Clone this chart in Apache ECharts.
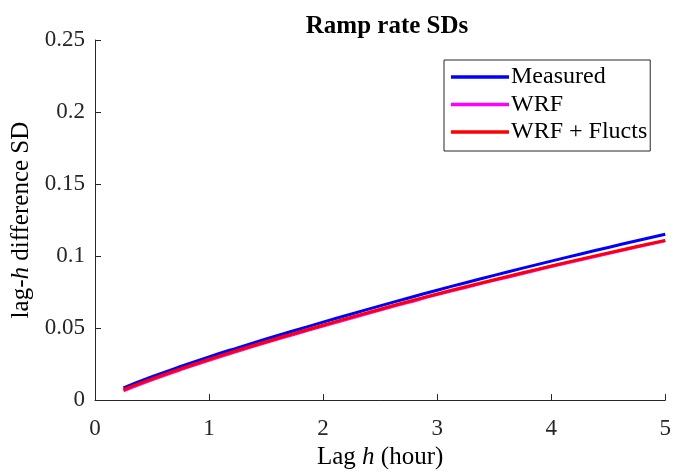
<!DOCTYPE html>
<html>
<head>
<meta charset="utf-8">
<script src="https://cdn.jsdelivr.net/npm/echarts@6/dist/echarts.min.js"></script>
<style>html,body{margin:0;padding:0;background:#fff}#c{width:674px;height:475px}</style>
</head>
<body>
<div id="c"></div>
<script>
var lags = [0.25,0.5,0.75,1,1.25,1.5,1.75,2,2.25,2.5,2.75,3,3.25,3.5,3.75,4,4.25,4.5,4.75,5];
var measured = [0.0085,0.0162,0.0233,0.0300,0.0363,0.0424,0.0483,0.0541,0.0598,0.0654,0.0709,0.0763,0.0815,0.0866,0.0916,0.0965,0.1013,0.1060,0.1106,0.1151];
var wrf = [0.0065,0.0141,0.0211,0.0277,0.0339,0.0399,0.0457,0.0514,0.0570,0.0625,0.0679,0.0732,0.0782,0.0831,0.0879,0.0927,0.0973,0.1018,0.1063,0.1106];
var wrfFlucts = [0.0072,0.0147,0.0217,0.0283,0.0345,0.0405,0.0463,0.0520,0.0576,0.0631,0.0685,0.0737,0.0787,0.0836,0.0884,0.0931,0.0977,0.1022,0.1066,0.1109];
var seriesNames = ['Measured','WRF','WRF + Flucts'];
var titleText = 'Ramp rate SDs';

function pairs(v){ return lags.map(function(h,i){ return [h, v[i]]; }); }
var font = 'Liberation Serif';
var axisCol = '#262626';
var chart = echarts.init(document.getElementById('c'));
chart.setOption({
  animation: false,
  backgroundColor: '#fff',
  title: {
    text: titleText, left: 382, top: 9, textAlign: 'center',
    textStyle: {fontFamily: font, fontWeight: 'bold', fontSize: 25, color: '#000'}
  },
  grid: {left: 95, right: 6, top: 40, bottom: 70},
  legend: {
    orient: 'vertical', left: 444, top: 60,
    padding: [5, 3, 7, 7], itemGap: 3.5,
    borderColor: axisCol, borderWidth: 1, backgroundColor: '#fff', borderRadius: 0,
    icon: 'rect', itemWidth: 58, itemHeight: 3.5,
    textStyle: {fontFamily: font, fontSize: 24, color: '#000', padding: [0,0,0,-3]},
    data: seriesNames
  },
  xAxis: {
    type: 'value', min: 0, max: 5, interval: 1,
    name: '{n|Lag }{i|h}{n| (hour)}', nameLocation: 'middle', nameGap: 44,
    nameTextStyle: {rich: {
      n: {fontFamily: font, fontSize: 25, color: '#000'},
      i: {fontFamily: font, fontSize: 25, fontStyle: 'italic', color: '#000'}
    }},
    axisLine: {show: true, lineStyle: {color: axisCol, width: 1}},
    axisTick: {show: true, inside: true, length: 6, lineStyle: {color: axisCol}},
    axisLabel: {fontFamily: font, fontSize: 23, color: '#262626', margin: 17},
    splitLine: {show: false}
  },
  yAxis: {
    type: 'value', min: 0, max: 0.25, interval: 0.05,
    name: '{n|lag-}{i|h}{n| difference SD}', nameLocation: 'middle', nameGap: 55,
    nameTextStyle: {rich: {
      n: {fontFamily: font, fontSize: 25, color: '#000'},
      i: {fontFamily: font, fontSize: 25, fontStyle: 'italic', color: '#000'}
    }},
    axisLine: {show: true, lineStyle: {color: axisCol, width: 1}},
    axisTick: {show: true, inside: true, length: 6, lineStyle: {color: axisCol}},
    axisLabel: {fontFamily: font, fontSize: 23, color: '#262626', margin: 10},
    splitLine: {show: false}
  },
  series: [
    {name: seriesNames[0], type: 'line', data: pairs(measured), showSymbol: false, smooth: true,
     lineStyle: {color: '#0000ff', width: 3}, itemStyle: {color: '#0000ff'}, z: 2},
    {name: seriesNames[1], type: 'line', data: pairs(wrf), showSymbol: false, smooth: true,
     lineStyle: {color: '#ff00ff', width: 3}, itemStyle: {color: '#ff00ff'}, z: 3},
    {name: seriesNames[2], type: 'line', data: pairs(wrfFlucts), showSymbol: false, smooth: true,
     lineStyle: {color: '#ff0000', width: 3}, itemStyle: {color: '#ff0000'}, z: 4}
  ]
});
</script>
</body>
</html>
